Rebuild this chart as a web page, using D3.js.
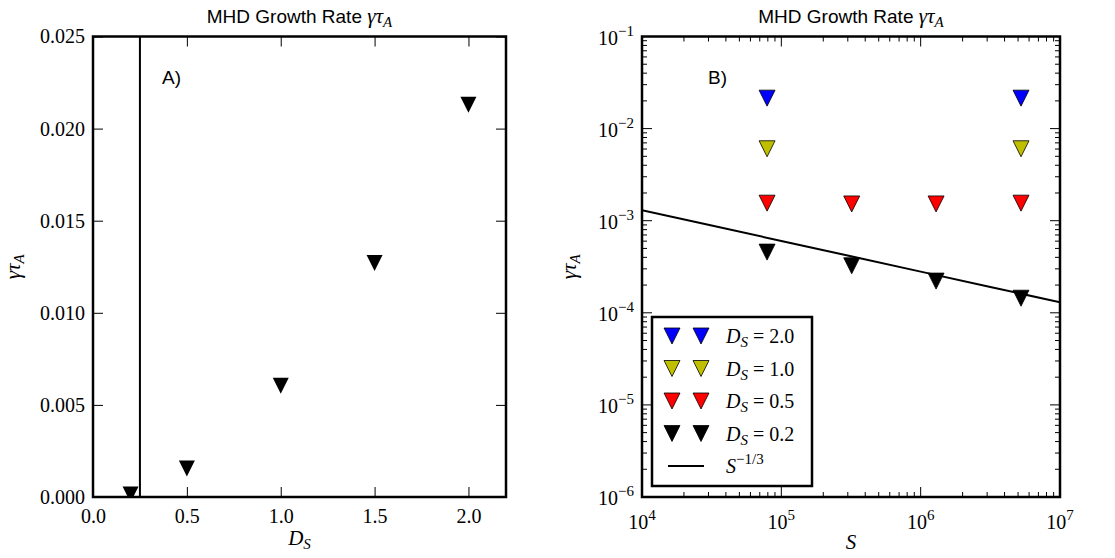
<!DOCTYPE html>
<html>
<head>
<meta charset="utf-8">
<script src="https://cdn.jsdelivr.net/npm/d3@7"></script>
<style>
  body { margin: 0; background: #fff; }
  svg { display: block; }
  .ttl { font-family: "Liberation Sans", Arial, sans-serif; font-size: 19px; }
  .num { font-family: "Liberation Serif", "DejaVu Serif", serif; font-size: 20px; }
  .math { font-family: "Liberation Serif", "DejaVu Serif", serif; font-style: italic; }
</style>
</head>
<body>
<div id="chart"></div>
<script>
// panel A: growth rate vs D_S
const dsValues = [0.2, 0.5, 1.0, 1.5, 2.0];
const gammaVsDs = [0.00014, 0.00155, 0.00604, 0.0127, 0.0213];
const dsMarker = 0.25; // vertical line
const xTicksA = [0.0, 0.5, 1.0, 1.5, 2.0];
const yTicksA = [0.000, 0.005, 0.010, 0.015, 0.020, 0.025];

// panel B: growth rate vs S (log-log)
const sValues = [7.9e4, 3.2e5, 1.29e6, 5.25e6];
const seriesLabels = ["2.0", "1.0", "0.5", "0.2"];
const seriesColors = ["#0000ff", "#bfbf00", "#ff0000", "#000000"];
const gamma20 = [0.0214, null, null, 0.0214];
const gamma10 = [0.00604, null, null, 0.00604];
const gamma05 = [0.00155, 0.00152, 0.00152, 0.00155];
const gamma02 = [4.56e-4, 3.24e-4, 2.21e-4, 1.44e-4];
const fitCoef = 0.028, fitExp = -1 / 3;
const xDecadesB = [4, 5, 6, 7];
const yDecadesB = [-6, -5, -4, -3, -2, -1];

const W = 1115, H = 558;
const svg = d3.select('#chart').append('svg')
  .attr('width', W).attr('height', H);

const serif = '"Liberation Serif", "DejaVu Serif", serif';
const yTop = 36.5, yBot = 497;
const A = { x0: 93, x1: 506 };
const B = { x0: 642, x1: 1060 };
const msize = 16;
const tri = d3.symbol().type({ draw(ctx, s) {
  const h = Math.sqrt(s) / 2;
  ctx.moveTo(0, h); ctx.lineTo(-h, -h); ctx.lineTo(h, -h); ctx.closePath();
}}).size(msize * msize);

function mathTitle(g, cx) {
  const t = g.append('text').attr('class', 'ttl')
    .attr('x', cx).attr('y', 23).attr('text-anchor', 'middle');
  t.append('tspan').text('MHD Growth Rate ');
  t.append('tspan').attr('class', 'math').attr('font-size', 21).text('γτ');
  t.append('tspan').attr('class', 'math').attr('font-size', 15).attr('dy', 4).text('A');
}

function yLabel(g, x) {
  const t = g.append('text').attr('class', 'math')
    .attr('transform', `translate(${x},${(yTop + yBot) / 2}) rotate(-90)`)
    .attr('text-anchor', 'middle').attr('font-size', 21);
  t.append('tspan').text('γτ');
  t.append('tspan').attr('font-size', 15).attr('dy', 4).text('A');
}

function frame(g, x0, x1) {
  g.append('rect').attr('x', x0).attr('y', yTop)
    .attr('width', x1 - x0).attr('height', yBot - yTop)
    .attr('fill', 'none').attr('stroke', '#000').attr('stroke-width', 2.5);
}

const numText = s => s.selectAll('text')
  .attr('font-family', null).attr('font-size', null)
  .style('font-family', serif).style('font-size', '20px').attr('fill', '#000');

// ---------- panel A ----------
const gA = svg.append('g');
const xA = d3.scaleLinear().domain([0, 2.2]).range([A.x0, A.x1]);
const yA = d3.scaleLinear().domain([0, 0.025]).range([yBot, yTop]);

gA.append('defs').append('clipPath').attr('id', 'clipA')
  .append('rect').attr('x', A.x0).attr('y', yTop)
  .attr('width', A.x1 - A.x0).attr('height', yBot - yTop);

const tickLen = 10;
gA.append('g').attr('transform', `translate(0,${yBot})`)
  .call(d3.axisBottom(xA).tickValues(xTicksA).tickFormat(d3.format('.1f'))
    .tickSizeInner(-tickLen).tickSizeOuter(0).tickPadding(8))
  .call(s => s.select('.domain').remove())
  .call(numText)
  .call(s => s.selectAll('text').attr('dy', '0.9em'));
gA.append('g').attr('transform', `translate(0,${yTop})`)
  .call(d3.axisTop(xA).tickValues(xTicksA).tickFormat('').tickSizeInner(-tickLen).tickSizeOuter(0))
  .call(s => s.select('.domain').remove());
gA.append('g').attr('transform', `translate(${A.x0},0)`)
  .call(d3.axisLeft(yA).tickValues(yTicksA).tickFormat(d3.format('.3f'))
    .tickSizeInner(-tickLen).tickSizeOuter(0).tickPadding(8))
  .call(s => s.select('.domain').remove())
  .call(numText);
gA.append('g').attr('transform', `translate(${A.x1},0)`)
  .call(d3.axisRight(yA).tickValues(yTicksA).tickFormat('').tickSizeInner(-tickLen).tickSizeOuter(0))
  .call(s => s.select('.domain').remove());

gA.append('g').attr('clip-path', 'url(#clipA)')
  .selectAll('path').data(dsValues.map((d, i) => [d, gammaVsDs[i]]))
  .join('path')
  .attr('d', tri)
  .attr('transform', d => `translate(${xA(d[0])},${yA(d[1])})`)
  .attr('fill', '#000');

gA.append('line')
  .attr('x1', xA(dsMarker)).attr('x2', xA(dsMarker))
  .attr('y1', yTop).attr('y2', yBot)
  .attr('stroke', '#000').attr('stroke-width', 2);

frame(gA, A.x0, A.x1);
mathTitle(gA, (A.x0 + A.x1) / 2);
yLabel(gA, 20);
gA.append('text').attr('class', 'ttl').attr('x', 162).attr('y', 84).text('A)');
{
  const t = gA.append('text').attr('class', 'math').attr('font-size', 21)
    .attr('x', (A.x0 + A.x1) / 2).attr('y', 545).attr('text-anchor', 'middle');
  t.append('tspan').text('D');
  t.append('tspan').attr('font-size', 15).attr('dy', 4).text('S');
}

// ---------- panel B ----------
const gB = svg.append('g');
const xB = d3.scaleLog().domain([1e4, 1e7]).range([B.x0, B.x1]);
const yB = d3.scaleLog().domain([1e-6, 1e-1]).range([yBot, yTop]);

gB.append('defs').append('clipPath').attr('id', 'clipB')
  .append('rect').attr('x', B.x0).attr('y', yTop)
  .attr('width', B.x1 - B.x0).attr('height', yBot - yTop);

function minorTicks(decades) {
  const out = [];
  for (let i = 0; i < decades.length - 1; i++)
    for (let m = 2; m <= 9; m++) out.push(m * Math.pow(10, decades[i]));
  return out;
}
const xMajB = xDecadesB.map(e => Math.pow(10, e));
const yMajB = yDecadesB.map(e => Math.pow(10, e));

const ticksB = gB.append('g').attr('stroke', '#000').attr('stroke-width', 1);
xMajB.concat(minorTicks(xDecadesB)).forEach((v, i) => {
  const len = i < xMajB.length ? tickLen : 5;
  ticksB.append('line').attr('x1', xB(v)).attr('x2', xB(v)).attr('y1', yBot).attr('y2', yBot - len);
  ticksB.append('line').attr('x1', xB(v)).attr('x2', xB(v)).attr('y1', yTop).attr('y2', yTop + len);
});
yMajB.concat(minorTicks(yDecadesB)).forEach((v, i) => {
  const len = i < yMajB.length ? tickLen : 5;
  ticksB.append('line').attr('y1', yB(v)).attr('y2', yB(v)).attr('x1', B.x0).attr('x2', B.x0 + len);
  ticksB.append('line').attr('y1', yB(v)).attr('y2', yB(v)).attr('x1', B.x1).attr('x2', B.x1 - len);
});

function powLabel(g, x, y, e, anchor) {
  const t = g.append('text').attr('class', 'num').attr('x', x).attr('y', y)
    .attr('text-anchor', anchor);
  t.append('tspan').text('10');
  t.append('tspan').attr('font-size', 15).attr('dy', -9).text(e < 0 ? '−' + (-e) : e);
}
xDecadesB.forEach(e => powLabel(gB, xB(Math.pow(10, e)), yBot + 32, e, 'middle'));
yDecadesB.forEach(e => powLabel(gB, B.x0 - 8, yB(Math.pow(10, e)) + 8, e, 'end'));

const plotB = gB.append('g').attr('clip-path', 'url(#clipB)');
const fitS = d3.range(4, 7.01, 0.5).map(e => Math.pow(10, e));
plotB.append('path')
  .datum(fitS)
  .attr('d', d3.line().x(d => xB(d)).y(d => yB(fitCoef * Math.pow(d, fitExp))))
  .attr('fill', 'none').attr('stroke', '#000').attr('stroke-width', 2);

const seriesB = [gamma20, gamma10, gamma05, gamma02];
seriesB.forEach((vals, k) => {
  plotB.append('g').selectAll('path')
    .data(sValues.map((s, i) => [s, vals[i]]).filter(d => d[1] != null))
    .join('path')
    .attr('d', tri)
    .attr('transform', d => `translate(${xB(d[0])},${yB(d[1])})`)
    .attr('fill', seriesColors[k])
    .attr('stroke', '#000').attr('stroke-width', 0.8);
});

frame(gB, B.x0, B.x1);
mathTitle(gB, (B.x0 + B.x1) / 2);
yLabel(gB, 576);
gB.append('text').attr('class', 'ttl').attr('x', 708).attr('y', 84).text('B)');
gB.append('text').attr('class', 'math').attr('font-size', 21)
  .attr('x', (B.x0 + B.x1) / 2).attr('y', 549).attr('text-anchor', 'middle').text('S');

// legend
const lg = gB.append('g').attr('transform', `translate(${B.x0 + 10},${yBot - 180})`);
lg.append('rect').attr('width', 160).attr('height', 169)
  .attr('fill', '#fff').attr('stroke', '#000').attr('stroke-width', 2.5);
const rowY = i => 19 + i * 32.5;
seriesLabels.forEach((lab, k) => {
  [20, 49].forEach(x => lg.append('path').attr('d', tri)
    .attr('transform', `translate(${x},${rowY(k)})`)
    .attr('fill', seriesColors[k]).attr('stroke', '#000').attr('stroke-width', 0.8));
  const t = lg.append('text').attr('class', 'num').attr('x', 74).attr('y', rowY(k) + 7)
    .attr('font-size', 21);
  t.append('tspan').attr('class', 'math').text('D');
  t.append('tspan').attr('class', 'math').attr('font-size', 15).attr('dy', 4).text('S');
  t.append('tspan').attr('dy', -4).text(' = ' + lab);
});
lg.append('line').attr('x1', 16).attr('x2', 52).attr('y1', rowY(4)).attr('y2', rowY(4))
  .attr('stroke', '#000').attr('stroke-width', 2);
{
  const t = lg.append('text').attr('class', 'num').attr('x', 74).attr('y', rowY(4) + 7);
  t.append('tspan').attr('class', 'math').text('S');
  t.append('tspan').attr('font-size', 15).attr('dy', -9).text('−1/3');
}
</script>
</body>
</html>
